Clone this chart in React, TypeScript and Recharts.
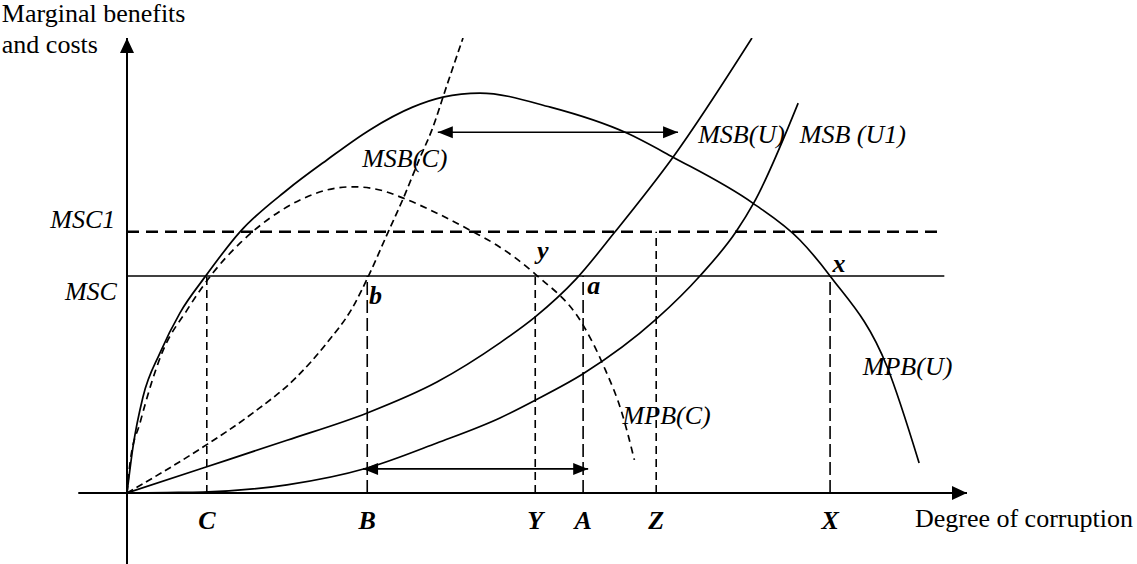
import React from 'react';
import { ComposedChart, Line, XAxis, YAxis, ReferenceLine, ReferenceDot } from 'recharts';

const FONT = "'Liberation Serif', 'Times New Roman', serif";

// x = degree of corruption, y = marginal benefits / costs (arbitrary units, 0..100)
const mpbU = [
  { x: 0, y: 0 }, { x: 0.71, y: 10.1 }, { x: 1.9, y: 21.1 }, { x: 3.93, y: 30.8 },
  { x: 6.31, y: 39.6 }, { x: 9.29, y: 47.5 }, { x: 13.45, y: 57.4 }, { x: 19.05, y: 66.6 },
  { x: 23.8, y: 73.2 }, { x: 28.9, y: 79.8 }, { x: 34.0, y: 84.8 }, { x: 37.6, y: 87.0 },
  { x: 42.0, y: 87.9 }, { x: 50.4, y: 84.8 }, { x: 59.5, y: 79.1 }, { x: 65.0, y: 73.8 },
  { x: 74.5, y: 63.7 }, { x: 80.1, y: 55.6 }, { x: 83.7, y: 47.7 }, { x: 90.5, y: 27.7 },
  { x: 94.3, y: 6.6 },
];
const mpbC = [
  { x: 0, y: 0 }, { x: 0.36, y: 6.6 }, { x: 1.55, y: 15.4 }, { x: 4.17, y: 30.8 },
  { x: 7.14, y: 40.2 }, { x: 10.24, y: 48.4 }, { x: 13.45, y: 54.9 }, { x: 16.7, y: 60.0 },
  { x: 20.6, y: 64.4 }, { x: 23.8, y: 66.6 }, { x: 26.9, y: 67.3 }, { x: 30.1, y: 66.6 },
  { x: 32.9, y: 64.8 }, { x: 36.9, y: 61.5 }, { x: 41.2, y: 57.4 }, { x: 44.0, y: 54.5 },
  { x: 48.6, y: 48.1 }, { x: 54.3, y: 36.9 }, { x: 56.7, y: 28.1 }, { x: 59.0, y: 17.1 },
  { x: 60.4, y: 7.3 },
];
const msbC = [
  { x: 0, y: 0 }, { x: 9.05, y: 10.1 }, { x: 15.0, y: 17.6 },
  { x: 20.2, y: 25.5 }, { x: 23.8, y: 33.0 }, { x: 26.9, y: 40.9 }, { x: 28.7, y: 47.5 },
  { x: 31.1, y: 57.4 }, { x: 32.9, y: 64.8 }, { x: 34.9, y: 73.8 }, { x: 36.3, y: 79.8 },
  { x: 38.1, y: 89.7 }, { x: 40.0, y: 100 },
];
const msbU = [
  { x: 0, y: 0 }, { x: 9.05, y: 5.5 }, { x: 19.05, y: 11.6 }, { x: 28.6, y: 17.6 },
  { x: 36.9, y: 24.4 }, { x: 44.4, y: 33.0 }, { x: 48.6, y: 38.7 }, { x: 53.45, y: 47.0 },
  { x: 58.1, y: 57.4 }, { x: 65.0, y: 73.8 }, { x: 74.4, y: 100 },
];
const msbU1 = [
  { x: 0, y: 0 }, { x: 4.76, y: 0.1 }, { x: 9.05, y: 0.2 }, { x: 19.05, y: 1.8 },
  { x: 28.6, y: 5.5 }, { x: 36.9, y: 11.0 }, { x: 44.4, y: 16.5 }, { x: 48.6, y: 20.4 },
  { x: 54.3, y: 26.2 }, { x: 63.0, y: 38.2 }, { x: 68.2, y: 47.7 }, { x: 72.5, y: 57.4 },
  { x: 74.6, y: 63.7 }, { x: 79.9, y: 85.7 },
];

const mscLevel = 47.7;
const msc1Level = 57.4;
const mscEnd = 97.3;
const msc1End = 97.0;

const tickValues = [9.5, 28.6, 48.6, 54.3, 63, 83.7];
const tickLabels = ['C', 'B', 'Y', 'A', 'Z', 'X'];
const dropTops = [mscLevel, mscLevel, mscLevel, mscLevel, msc1Level, mscLevel];
const dropLong = [false, true, false, true, false, true];

// double arrows: [from x, to x, at y]
const topArrow = [37.0, 65.6, 79.3];
const bottomArrow = [28.1, 54.9, 5.3];

const notes = [
  { x: -14.9, y: 103.5, text: 'Marginal benefits', anchor: 'start', kind: 'plain' },
  { x: -14.9, y: 96.7, text: 'and costs', anchor: 'start', kind: 'plain' },
  { x: -1.4, y: 58.2, text: 'MSC1', anchor: 'end', kind: 'italic' },
  { x: -1.2, y: 42.4, text: 'MSC', anchor: 'end', kind: 'italic' },
  { x: 28.0, y: 71.6, text: 'MSB(C)', anchor: 'start', kind: 'italic' },
  { x: 68.0, y: 76.9, text: 'MSB(U)', anchor: 'start', kind: 'italic' },
  { x: 80.1, y: 76.9, text: 'MSB (U1)', anchor: 'start', kind: 'italic' },
  { x: 59.0, y: 15.2, text: 'MPB(C)', anchor: 'start', kind: 'italic' },
  { x: 87.6, y: 25.9, text: 'MPB(U)', anchor: 'start', kind: 'italic' },
  { x: 28.8, y: 41.6, text: 'b', anchor: 'start', kind: 'bold' },
  { x: 54.8, y: 43.7, text: 'a', anchor: 'start', kind: 'bold' },
  { x: 48.8, y: 51.4, text: 'y', anchor: 'start', kind: 'bold' },
  { x: 84.0, y: 48.6, text: 'x', anchor: 'start', kind: 'bold' },
  { x: 93.8, y: -7.5, text: 'Degree of corruption', anchor: 'start', kind: 'plain' },
];

function arrowShape(both: boolean, len: number, half: number) {
  return (p: any) => {
    const { x1, y1, x2, y2, stroke, strokeWidth } = p;
    const a = Math.atan2(y2 - y1, x2 - x1);
    const head = (x: number, y: number, ang: number) => {
      const bx = x - len * Math.cos(ang);
      const by = y - len * Math.sin(ang);
      const px = half * Math.sin(ang);
      const py = -half * Math.cos(ang);
      return `${x},${y} ${bx + px},${by + py} ${bx - px},${by - py}`;
    };
    return (
      <g>
        <line x1={x1} y1={y1} x2={x2} y2={y2} stroke={stroke} strokeWidth={strokeWidth} />
        <polygon points={head(x2, y2, a)} fill={stroke} />
        {both && <polygon points={head(x1, y1, a + Math.PI)} fill={stroke} />}
      </g>
    );
  };
}

function noteShape(n: any) {
  return (p: any) => (
    <text
      x={p.cx}
      y={p.cy}
      textAnchor={n.anchor}
      fontFamily={FONT}
      fontSize={26}
      fontStyle={n.kind === 'plain' ? 'normal' : 'italic'}
      fontWeight={n.kind === 'bold' ? 'bold' : 'normal'}
      fill="#000"
    >
      {n.text}
    </text>
  );
}

const curve = (data: any[], dash?: string) => (
  <Line
    data={data}
    dataKey="y"
    type="monotone"
    stroke="#000"
    strokeWidth={1.7}
    strokeDasharray={dash}
    dot={false}
    activeDot={false}
    isAnimationActive={false}
  />
);

export default function App() {
  return (
    <div style={{ position: 'absolute', left: 0, top: 0, background: '#fff' }}>
      <ComposedChart width={1137} height={564} margin={{ top: 38, right: 170, bottom: 0, left: 127 }}>
        <XAxis
          type="number"
          dataKey="x"
          domain={[0, 100]}
          allowDataOverflow
          ticks={tickValues}
          interval={0}
          tickFormatter={(v: number) => tickLabels[tickValues.indexOf(v)] ?? ''}
          axisLine={false}
          tickLine={false}
          tickSize={0}
          tickMargin={18}
          height={71}
          tick={{ fontSize: 26, fontFamily: FONT, fontStyle: 'italic', fontWeight: 'bold', fill: '#000' }}
        />
        <YAxis type="number" domain={[0, 100]} allowDataOverflow hide />

        {/* axes with arrowheads */}
        <ReferenceLine segment={[{ x: 0, y: -15.6 }, { x: 0, y: 100 }]} stroke="#000" strokeWidth={2} ifOverflow="visible" shape={arrowShape(false, 15, 7)} />
        <ReferenceLine segment={[{ x: -5.8, y: 0 }, { x: 100, y: 0 }]} stroke="#000" strokeWidth={2} ifOverflow="visible" shape={arrowShape(false, 15, 7)} />

        {/* cost levels */}
        <ReferenceLine segment={[{ x: 0, y: mscLevel }, { x: mscEnd, y: mscLevel }]} stroke="#000" strokeWidth={1.5} ifOverflow="visible" />
        <ReferenceLine segment={[{ x: 0, y: msc1Level }, { x: msc1End, y: msc1Level }]} stroke="#000" strokeWidth={2.5} strokeDasharray="12 7" ifOverflow="visible" />

        {/* drop lines to the axis */}
        {tickValues.map((v, i) => (
          <ReferenceLine
            key={`drop-${i}`}
            segment={[{ x: v, y: 0 }, { x: v, y: dropTops[i] }]}
            stroke="#000"
            strokeWidth={1.6}
            strokeDasharray={dropLong[i] ? '13 5' : '8 5'}
            ifOverflow="visible"
          />
        ))}

        {curve(mpbU)}
        {curve(mpbC, '7 5')}
        {curve(msbC, '7 4')}
        {curve(msbU)}
        {curve(msbU1)}

        <ReferenceLine segment={[{ x: topArrow[0], y: topArrow[2] }, { x: topArrow[1], y: topArrow[2] }]} stroke="#000" strokeWidth={1.6} ifOverflow="visible" shape={arrowShape(true, 15, 6)} />
        <ReferenceLine segment={[{ x: bottomArrow[0], y: bottomArrow[2] }, { x: bottomArrow[1], y: bottomArrow[2] }]} stroke="#000" strokeWidth={1.6} ifOverflow="visible" shape={arrowShape(true, 15, 6)} />

        {notes.map((n, i) => (
          <ReferenceDot key={`note-${i}`} x={n.x} y={n.y} r={0} ifOverflow="visible" shape={noteShape(n)} />
        ))}
      </ComposedChart>
    </div>
  );
}
